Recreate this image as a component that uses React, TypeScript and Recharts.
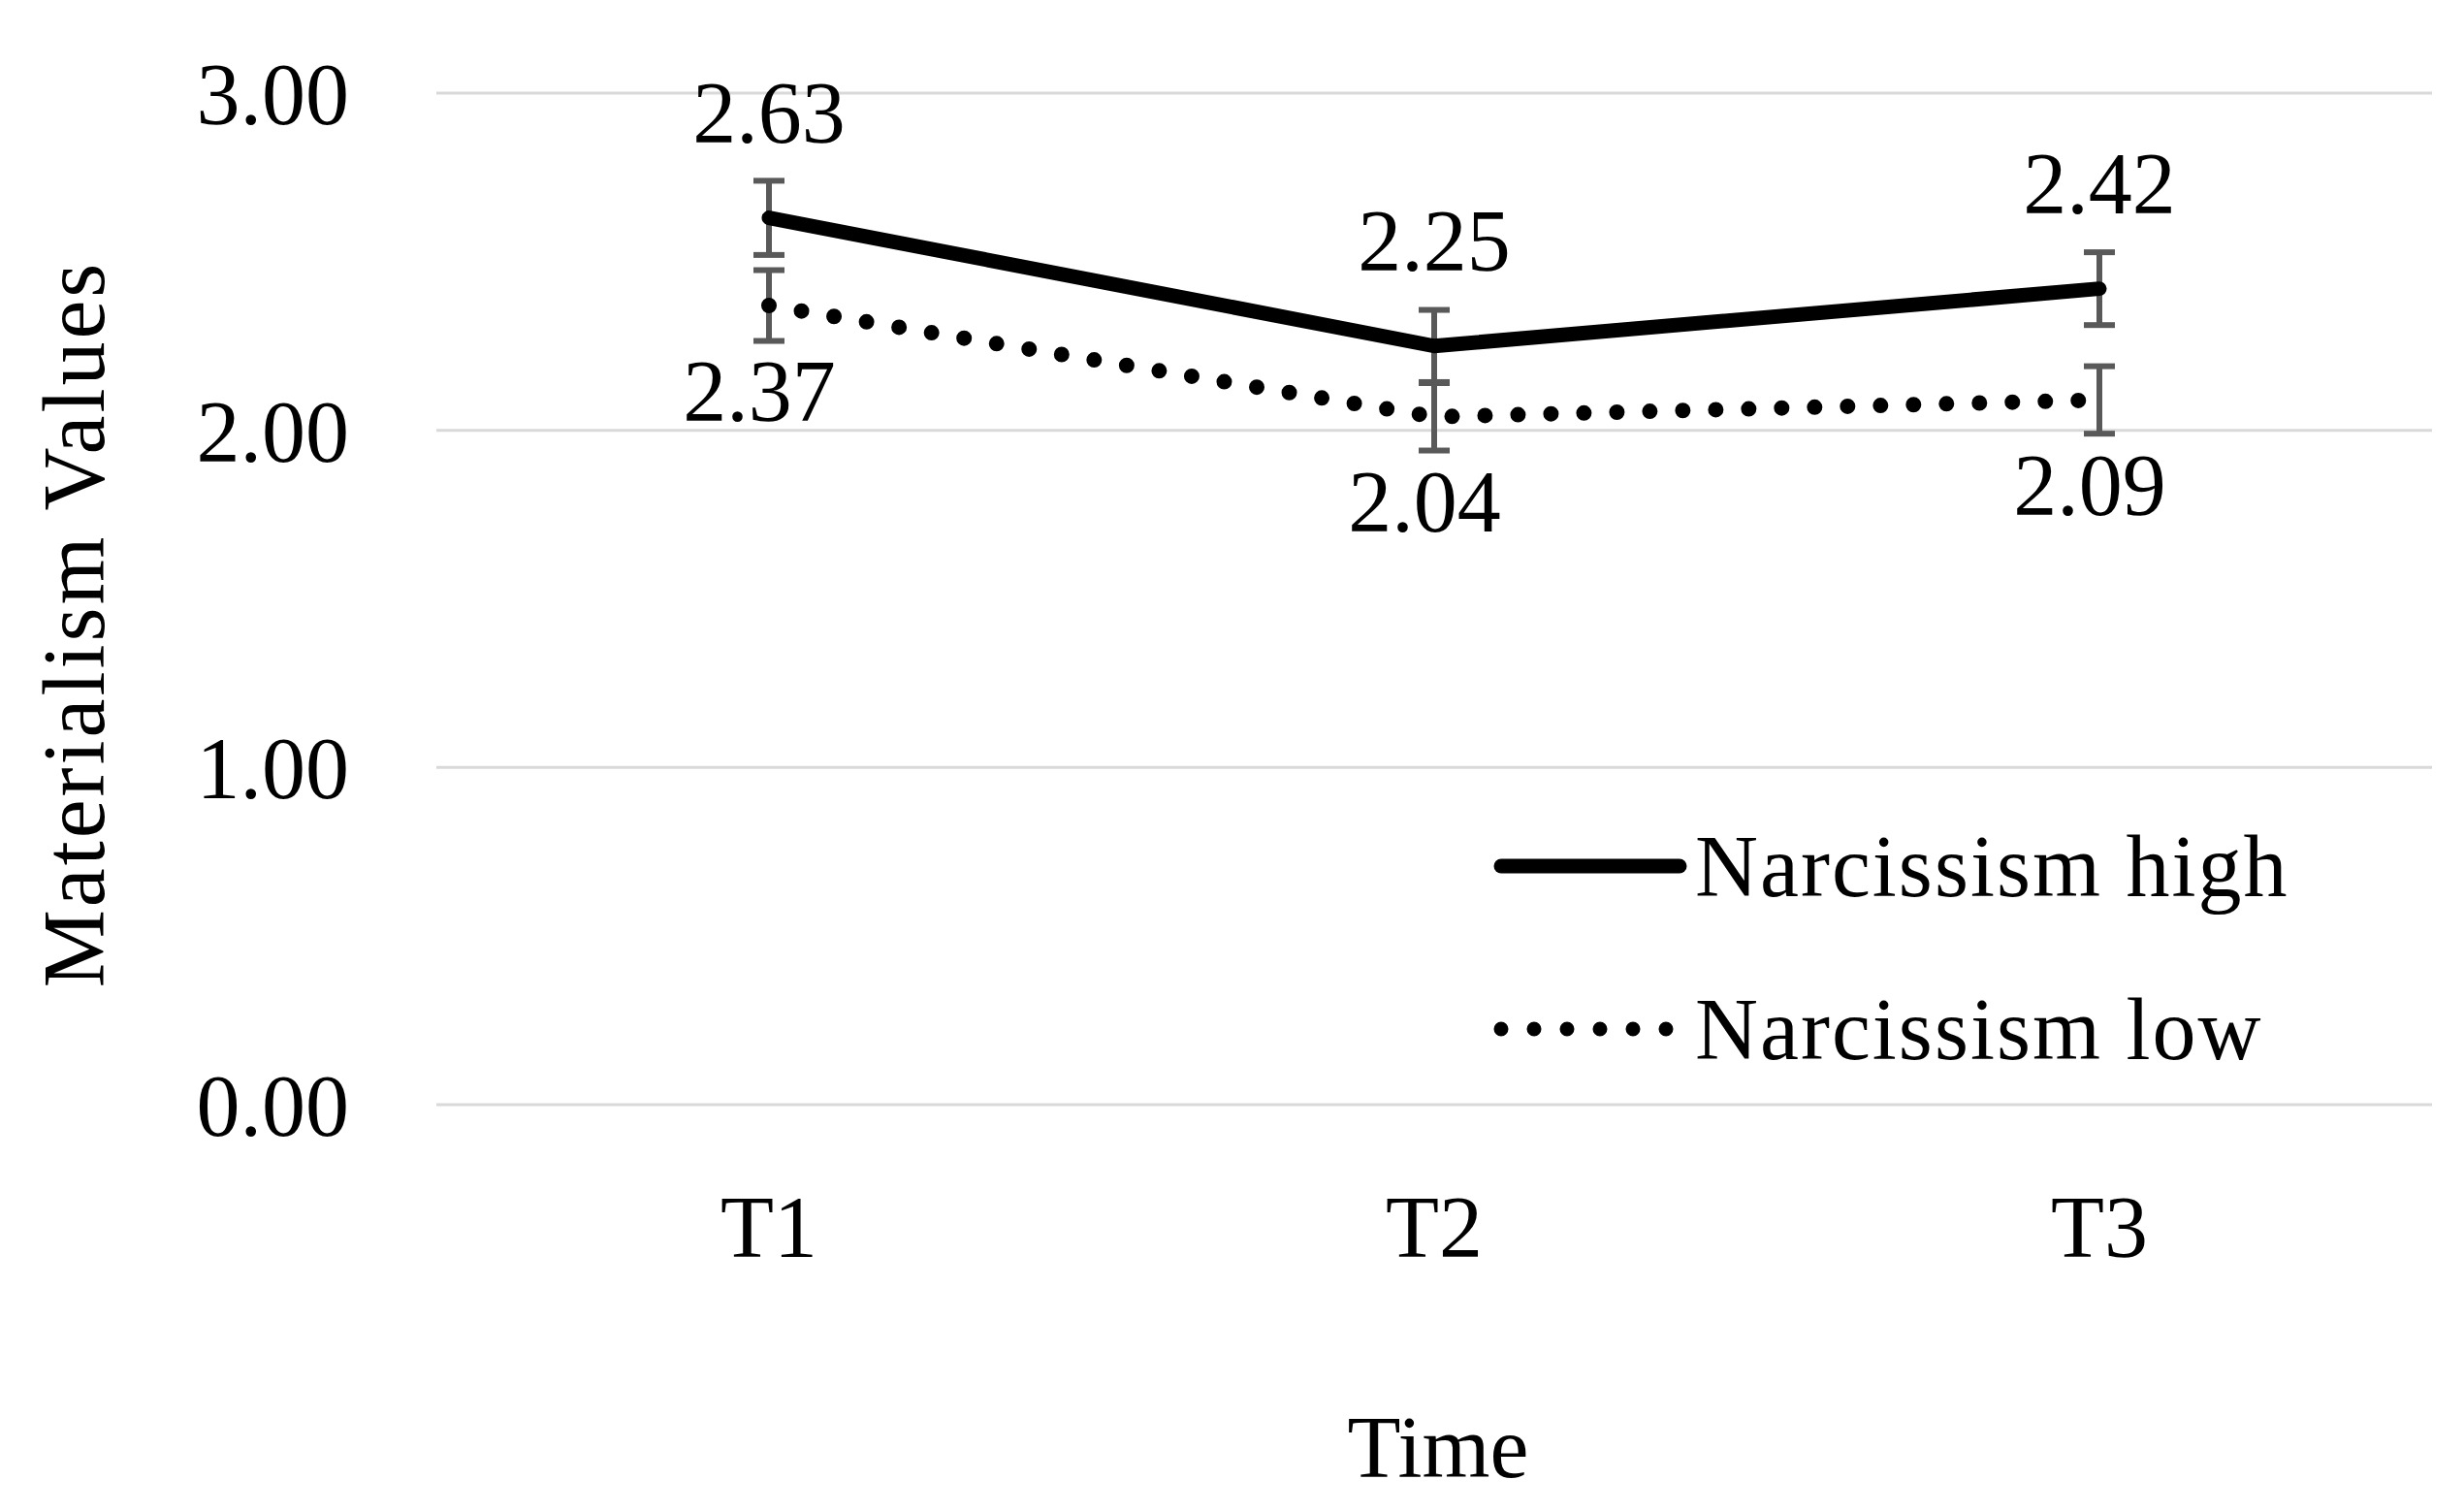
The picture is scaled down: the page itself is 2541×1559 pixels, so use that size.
import { LineChart, Line, XAxis, YAxis, CartesianGrid, ErrorBar, LabelList, Label, Legend } from "recharts";

const times = ["T1", "T2", "T3"];
const highValues = [2.63, 2.25, 2.42];
const lowValues = [2.37, 2.04, 2.09];
const highErrors = [0.11, 0.107, 0.108];
const lowErrors = [0.105, 0.1, 0.1];
const yTicks = [0, 1, 2, 3];

const FONT = "'Liberation Serif', 'Times New Roman', serif";
const FS = 90;

const data = times.map((t, i) => ({
  time: t,
  high: highValues[i],
  low: lowValues[i],
  highErr: highErrors[i],
  lowErr: lowErrors[i],
}));

function HighLabel(props: any) {
  const { x, y, value } = props;
  return (
    <text x={x} y={y - 108} textAnchor="middle" dominantBaseline="central"
      fontFamily={FONT} fontSize={FS} fill="#000">
      {Number(value).toFixed(2)}
    </text>
  );
}

function LowLabel(props: any) {
  const { x, y, value } = props;
  return (
    <text x={x - 10} y={y + 88} textAnchor="middle" dominantBaseline="central"
      fontFamily={FONT} fontSize={FS} fill="#000">
      {Number(value).toFixed(2)}
    </text>
  );
}

// legend drawn by hand, lines match the series styles
function LegendBox() {
  return (
    <svg width={1000} height={360}>
      <line x1={10} y1={93} x2={194} y2={93} stroke="#000" strokeWidth={15} strokeLinecap="round" />
      <text x={210} y={93} dominantBaseline="central" fontFamily={FONT} fontSize={FS}
        letterSpacing={2}>Narcissism high</text>
      <line x1={10} y1={261} x2={190} y2={261} stroke="#000" strokeWidth={15}
        strokeDasharray="0 34" strokeLinecap="round" />
      <text x={210} y={261} dominantBaseline="central" fontFamily={FONT} fontSize={FS}
        letterSpacing={2}>Narcissism low</text>
    </svg>
  );
}

export default function App() {
  return (
    <div style={{ position: "absolute", left: 0, top: 0, background: "#fff" }}>
      <LineChart width={2541} height={1559} data={data}
        margin={{ top: 96, right: 33, left: 0, bottom: 0 }}>
        <CartesianGrid horizontal vertical={false} stroke="#d9d9d9" strokeWidth={3} />
        <XAxis dataKey="time" type="category" height={420} padding={{ left: 343, right: 343 }}
          axisLine={false} tickLine={false} tickSize={0} tickMargin={93}
          tick={{ fontFamily: FONT, fontSize: FS, fill: "#000" }}>
          <Label content={(p: any) => {
            const vb = p.viewBox;
            return (
              <text x={vb.x + vb.width / 2 + 4} y={1523} textAnchor="middle"
                fontFamily={FONT} fontSize={FS} fill="#000">Time</text>
            );
          }} />
        </XAxis>
        <YAxis type="number" domain={[0, 3]} ticks={yTicks} width={450}
          axisLine={false} tickLine={false} tickSize={0} tickMargin={90}
          tickFormatter={(v: number) => v.toFixed(2)}
          tick={{ fontFamily: FONT, fontSize: FS, fill: "#000" }}>
          <Label content={(p: any) => {
            const vb = p.viewBox;
            const cx = vb.x + 76;
            const cy = vb.y + vb.height / 2 + 26;
            return (
              <text transform={`translate(${cx},${cy}) rotate(-90)`} textAnchor="middle"
                dominantBaseline="central" fontFamily={FONT} fontSize={FS} fill="#000"
                letterSpacing={3}>
                Materialism Values
              </text>
            );
          }} />
        </YAxis>
        <Legend verticalAlign="middle" layout="horizontal" content={() => <LegendBox />}
          wrapperStyle={{ position: "absolute", left: 1538, top: 800, width: 1000, height: 360 }} />
        <Line dataKey="low" name="Narcissism low" stroke="#000" strokeWidth={16}
          strokeDasharray="0 34" strokeLinecap="round" dot={false} activeDot={false}
          isAnimationActive={false}>
          <ErrorBar dataKey="lowErr" direction="y" width={16} strokeWidth={6} stroke="#595959" />
          <LabelList dataKey="low" content={LowLabel} />
        </Line>
        <Line dataKey="high" name="Narcissism high" stroke="#000" strokeWidth={15}
          strokeLinecap="round" strokeLinejoin="round" dot={false} activeDot={false}
          isAnimationActive={false}>
          <ErrorBar dataKey="highErr" direction="y" width={16} strokeWidth={6} stroke="#595959" />
          <LabelList dataKey="high" content={HighLabel} />
        </Line>
      </LineChart>
    </div>
  );
}
